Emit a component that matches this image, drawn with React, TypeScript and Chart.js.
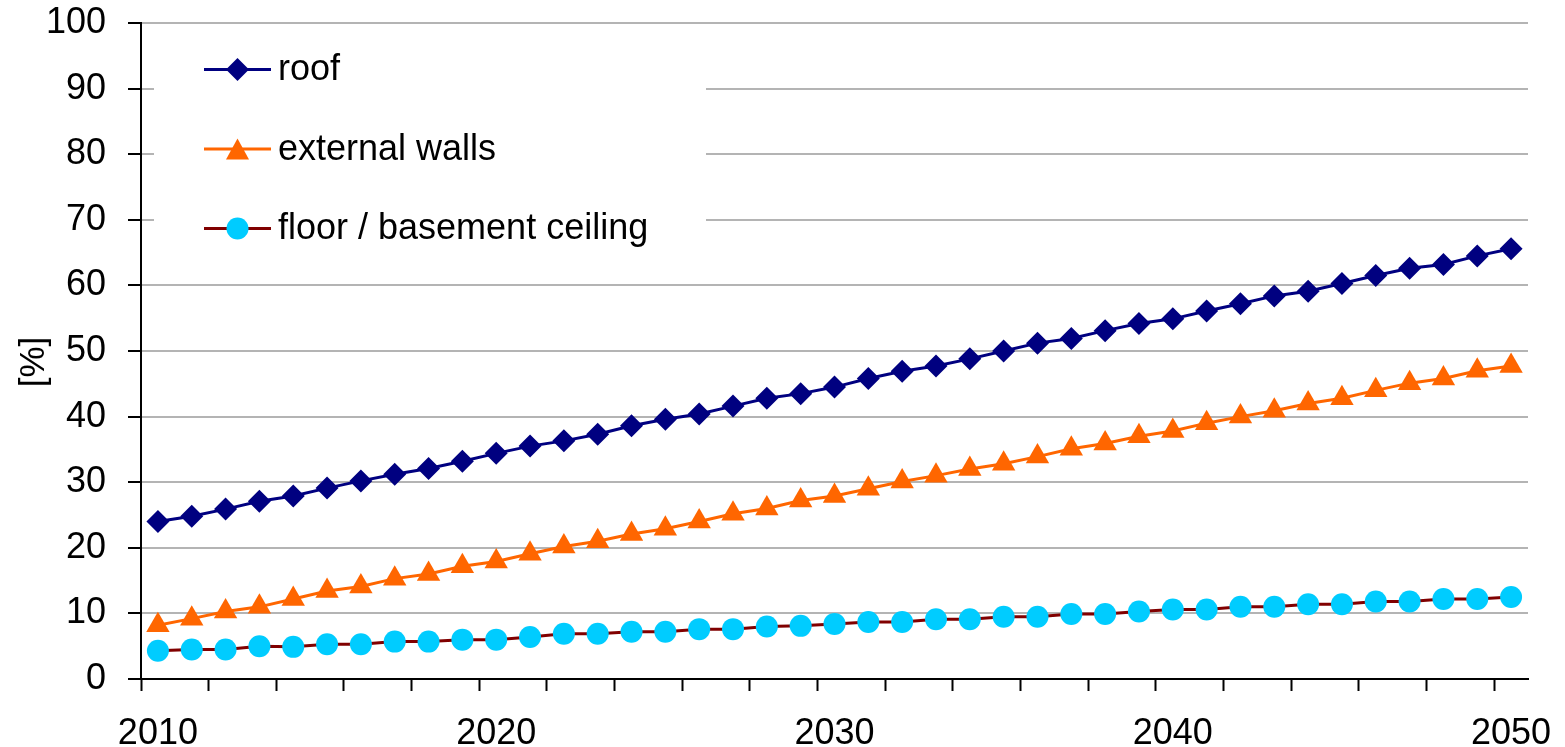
import React, { useEffect, useRef } from 'react';
import { Chart, registerables } from 'chart.js';

Chart.register(...registerables);

const years: string[] = [
  '2010', '2011', '2012', '2013', '2014', '2015', '2016', '2017', '2018', '2019',
  '2020', '2021', '2022', '2023', '2024', '2025', '2026', '2027', '2028', '2029',
  '2030', '2031', '2032', '2033', '2034', '2035', '2036', '2037', '2038', '2039',
  '2040', '2041', '2042', '2043', '2044', '2045', '2046', '2047', '2048', '2049',
  '2050',
];

const roof: number[] = [
  24.0, 24.8, 25.9, 27.1, 27.9, 29.1, 30.2, 31.2, 32.1, 33.2,
  34.4, 35.5, 36.3, 37.3, 38.6, 39.6, 40.4, 41.6, 42.8, 43.5,
  44.5, 45.8, 46.9, 47.7, 48.8, 50.0, 51.2, 51.9, 53.1, 54.2,
  54.9, 56.1, 57.2, 58.4, 59.1, 60.3, 61.5, 62.6, 63.2, 64.5,
  65.6,
];

const externalWalls: number[] = [
  8.2, 9.2, 10.3, 11.0, 12.2, 13.4, 14.1, 15.3, 16.0, 17.2,
  17.9, 19.1, 20.2, 21.0, 22.1, 22.9, 24.0, 25.2, 26.0, 27.2,
  27.9, 29.0, 30.1, 31.0, 32.0, 32.8, 33.9, 35.1, 35.9, 37.0,
  37.8, 39.0, 40.0, 40.9, 42.0, 42.8, 44.0, 45.1, 45.8, 47.0,
  47.7,
];

const floorCeiling: number[] = [
  4.3, 4.5, 4.5, 5.0, 4.9, 5.3, 5.3, 5.7, 5.7, 6.0,
  6.0, 6.4, 6.9, 6.9, 7.2, 7.2, 7.6, 7.6, 8.0, 8.1,
  8.4, 8.7, 8.7, 9.1, 9.1, 9.5, 9.5, 9.9, 9.9, 10.3,
  10.6, 10.6, 11.0, 11.0, 11.4, 11.4, 11.8, 11.8, 12.2, 12.2,
  12.5,
];

const seriesNames: string[] = ['roof', 'external walls', 'floor / basement ceiling'];
const yAxisTitle = '[%]';

const FONT = '"Liberation Sans", Arial, Helvetica, sans-serif';
const NAVY = '#000080';
const ORANGE = '#FF6600';
const CYAN = '#00CCFF';
const DARKRED = '#800000';

type LegendItem = { name: string; line: string; marker: string; shape: 'diamond' | 'triangle' | 'circle' };

const legendItems: LegendItem[] = [
  { name: seriesNames[0], line: NAVY, marker: NAVY, shape: 'diamond' },
  { name: seriesNames[1], line: ORANGE, marker: ORANGE, shape: 'triangle' },
  { name: seriesNames[2], line: DARKRED, marker: CYAN, shape: 'circle' },
];

function drawMarker(ctx: CanvasRenderingContext2D, shape: string, x: number, y: number, color: string) {
  ctx.fillStyle = color;
  ctx.beginPath();
  if (shape === 'diamond') {
    const r = 11.5;
    ctx.moveTo(x, y - r);
    ctx.lineTo(x + r, y);
    ctx.lineTo(x, y + r);
    ctx.lineTo(x - r, y);
    ctx.closePath();
  } else if (shape === 'triangle') {
    const h = 21;
    const w = 23;
    ctx.moveTo(x, y - h / 2);
    ctx.lineTo(x + w / 2, y + h / 2);
    ctx.lineTo(x - w / 2, y + h / 2);
    ctx.closePath();
  } else {
    ctx.arc(x, y, 11, 0, Math.PI * 2);
  }
  ctx.fill();
}

const insideLegend = {
  id: 'insideLegend',
  afterDraw(chart: any) {
    const { ctx, chartArea } = chart;
    const left = chartArea.left;
    const top = chartArea.top;
    ctx.save();
    ctx.fillStyle = '#ffffff';
    ctx.fillRect(left + 13, top + 14, 552, 218);
    legendItems.forEach((item, i) => {
      const y = top + 46.5 + i * 79.5;
      const x0 = left + 63;
      const x1 = left + 130;
      ctx.strokeStyle = item.line;
      ctx.lineWidth = 3;
      ctx.beginPath();
      ctx.moveTo(x0, y);
      ctx.lineTo(x1, y);
      ctx.stroke();
      drawMarker(ctx, item.shape, (x0 + x1) / 2, y, item.marker);
      ctx.fillStyle = '#000';
      ctx.font = `36px ${FONT}`;
      ctx.textBaseline = 'middle';
      ctx.textAlign = 'left';
      ctx.fillText(item.name, left + 137, y + 1);
    });
    // y-axis title
    ctx.translate(34, (chartArea.top + chartArea.bottom) / 2 + 11);
    ctx.rotate(-Math.PI / 2);
    ctx.fillStyle = '#000';
    ctx.font = `35px ${FONT}`;
    ctx.textAlign = 'center';
    ctx.textBaseline = 'middle';
    ctx.fillText(yAxisTitle, 0, 0);
    ctx.restore();
  },
};

function zeroPadding(scale: any) {
  scale.paddingTop = 0;
  scale.paddingBottom = 0;
  scale.paddingLeft = 0;
  scale.paddingRight = 0;
}

export default function App() {
  const canvasRef = useRef<HTMLCanvasElement | null>(null);

  useEffect(() => {
    const canvas = canvasRef.current;
    if (!canvas) return;
    const chart = new Chart(canvas, {
      type: 'line',
      data: {
        labels: years,
        datasets: [
          {
            label: seriesNames[0],
            data: roof,
            borderColor: NAVY,
            backgroundColor: NAVY,
            borderWidth: 3,
            pointStyle: 'rectRot',
            pointRadius: 11.5,
            pointBorderWidth: 0,
            pointBackgroundColor: NAVY,
            tension: 0,
          },
          {
            label: seriesNames[1],
            data: externalWalls,
            borderColor: ORANGE,
            backgroundColor: ORANGE,
            borderWidth: 3,
            pointStyle: 'triangle',
            pointRadius: 13.5,
            pointBorderWidth: 0,
            pointBackgroundColor: ORANGE,
            tension: 0,
          },
          {
            label: seriesNames[2],
            data: floorCeiling,
            borderColor: DARKRED,
            backgroundColor: CYAN,
            borderWidth: 3,
            pointStyle: 'circle',
            pointRadius: 11,
            pointBorderWidth: 0,
            pointBackgroundColor: CYAN,
            tension: 0,
          },
        ],
      },
      options: {
        animation: false,
        responsive: false,
        devicePixelRatio: 1,
        layout: { padding: { top: 23, right: 37, left: 0, bottom: 0 } },
        plugins: {
          legend: { display: false },
          tooltip: { enabled: false },
        },
        scales: {
          x: {
            type: 'category',
            offset: true,
            grid: {
              offset: true,
              drawOnChartArea: false,
              drawTicks: true,
              tickLength: 12,
              tickWidth: 2,
              tickColor: (ctx: any) =>
                typeof ctx.index === 'number' && ctx.index % 2 === 0 && ctx.index <= 40 ? '#000' : 'rgba(0,0,0,0)',
            },
            border: { display: true, color: '#000', width: 2 },
            ticks: {
              autoSkip: false,
              maxRotation: 0,
              minRotation: 0,
              padding: 21,
              color: '#000',
              font: { family: FONT, size: 36 },
              callback: function (this: any, value: any) {
                const label = String(this.getLabelForValue(value));
                return Number(label) % 10 === 0 ? label : '';
              },
            },
            afterFit: (scale: any) => {
              scale.height = 68;
              zeroPadding(scale);
            },
          },
          y: {
            min: 0,
            max: 100,
            ticks: {
              stepSize: 10,
              padding: 22,
              color: '#000',
              font: { family: FONT, size: 36 },
            },
            grid: {
              color: '#B4B4B4',
              lineWidth: 2,
              tickColor: '#000',
              tickLength: 13,
              tickWidth: 2,
            },
            border: { display: true, color: '#000', width: 2 },
            title: { display: false },
            afterFit: (scale: any) => {
              scale.width = 141;
              zeroPadding(scale);
            },
          },
        },
      },
      plugins: [insideLegend],
    });
    return () => chart.destroy();
  }, []);

  return (
    <div style={{ position: 'fixed', left: 0, top: 0, width: 1565, height: 747, background: '#fff' }}>
      <canvas ref={canvasRef} width={1565} height={747} style={{ display: 'block' }} />
    </div>
  );
}
